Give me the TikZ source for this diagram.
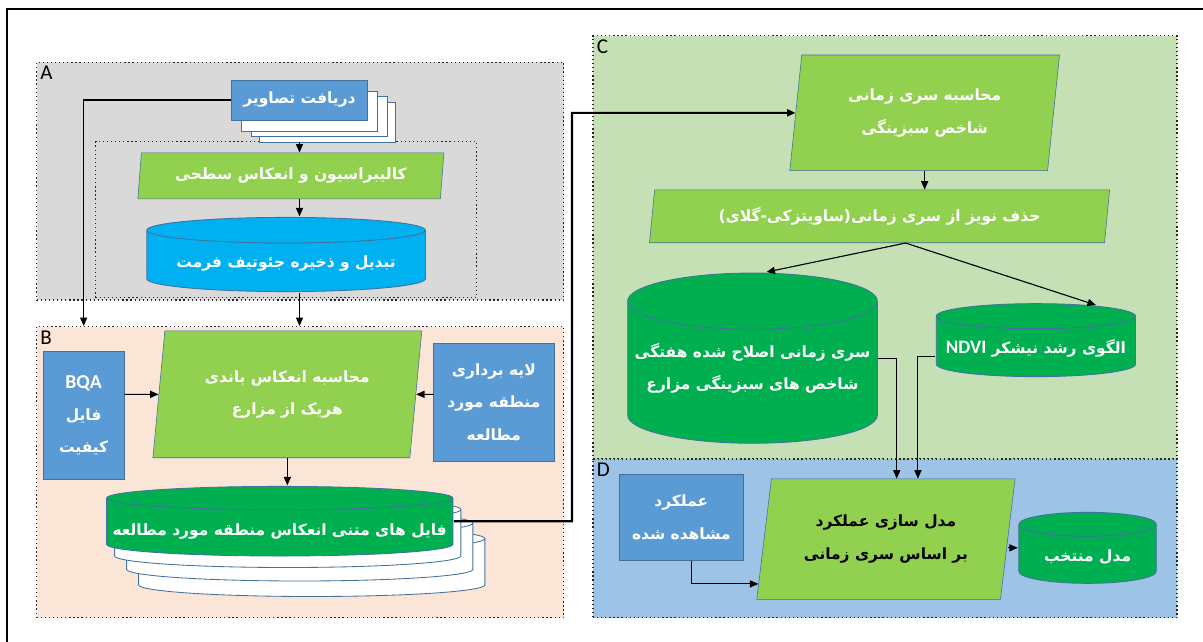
\documentclass[tikz,border=0pt]{standalone}
\usepackage{fontspec}
\setmainfont{Carlito}
\newfontfamily\fafont[Script=Arabic]{DejaVu Sans}
\TeXXeTstate=1
\usetikzlibrary{arrows.meta,shapes.geometric,positioning,calc}

\definecolor{boxblue}{HTML}{5B9BD5}
\definecolor{bordblue}{HTML}{41719C}
\definecolor{paragreen}{HTML}{92D050}
\definecolor{cylblue}{HTML}{00B0F0}
\definecolor{cylgreen}{HTML}{00B050}
\definecolor{fillA}{HTML}{D9D9D9}
\definecolor{fillB}{HTML}{FBE5D6}
\definecolor{fillC}{HTML}{C5E0B4}
\definecolor{fillD}{HTML}{9DC3E6}

\tikzset{
  region/.style={draw=black!85, dotted, line width=0.9pt, inner sep=0pt},
  regionlab/.style={anchor=north west, inner sep=3pt, font=\fontsize{15}{15}\selectfont},
  fatext/.style={text=white, align=center, font=\fafont\bfseries\fontsize{11}{23}\selectfont},
  bluebox/.style={rectangle, draw=bordblue, fill=boxblue, fatext, inner sep=0pt},
  sheet/.style={rectangle, draw=bordblue, fill=white, inner sep=0pt},
  parabox/.style={trapezium, trapezium stretches body, draw=bordblue, fill=paragreen, fatext, inner sep=0pt},
  cyldepth/.store in=\cyldepth, cyldepth=9pt,
  cylcolor/.store in=\cylcolor, cylcolor=cylgreen,
  dbase/.style={rectangle, inner sep=0pt, path picture={
    \draw[draw=bordblue, fill=\cylcolor, line width=0.6pt]
      let \p1=(path picture bounding box.north west), \p2=(path picture bounding box.south east),
          \n1={(\x2-\x1)/2-0.5pt} in
      (\x1+0.5pt,\y1-0.5pt-\cyldepth) -- (\x1+0.5pt,\y2+0.5pt+\cyldepth)
      arc[start angle=180, end angle=360, x radius=\n1, y radius=\cyldepth]
      -- (\x2-0.5pt,\y1-0.5pt-\cyldepth)
      arc[start angle=0, end angle=180, x radius=\n1, y radius=\cyldepth]
      arc[start angle=180, end angle=360, x radius=\n1, y radius=\cyldepth];
  }},
  arr/.style={-{Triangle[length=6pt,width=5pt]}, line width=0.8pt},
}

\begin{document}
\begin{tikzpicture}[x=0.025cm,y=-0.025cm]
\useasboundingbox (0,0) rectangle (1203,642);
\draw[line width=1.8pt] (7,9) rectangle (1215,660);

\node[region, fill=fillA, minimum width=13.175cm, minimum height=5.94cm, label={[regionlab]north west:A}] (partA) at (300.2,181.15) {};
\node[region, minimum width=9.52cm, minimum height=3.9cm] (calibzone) at (286.1,219.7) {};
\node[region, fill=fillB, minimum width=13.175cm, minimum height=7.275cm, label={[regionlab]north west:B}] (partB) at (300.2,472.2) {};
\node[region, fill=fillC, minimum width=14.6cm, minimum height=10.58cm, label={[regionlab]north west:C}] (partC) at (885,247.35) {};
\node[region, fill=fillD, minimum width=14.6cm, minimum height=3.97cm, label={[regionlab]north west:D}] (partD) at (885,538.35) {};

\node[sheet, minimum width=3.4cm, minimum height=1cm] (img3) at (327,122) {};
\node[sheet, minimum width=3.4cm, minimum height=1cm] (img2) at (319,116) {};
\node[sheet, minimum width=3.4cm, minimum height=1cm] (img1) at (309.5,111) {};
\node[bluebox, minimum width=3.4cm, minimum height=1cm] (recv) at (299.5,100) {\beginR دریافت تصاویر\endR};
\node[parabox, trapezium left angle=77, trapezium right angle=103, minimum width=7.65cm, minimum height=1.15cm] (calib) at (290.9,175.85)
  {\beginR کالیبراسیون  و انعکاس سطحی\endR};
\node[dbase, cylcolor=cylblue, cyldepth=9.1pt, minimum width=7cm, minimum height=1.89cm,
  label={[fatext, yshift=-0.22cm]center:\beginR تبدیل و ذخیره جئوتیف فرمت\endR}] (geo) at (286.1,254.5) {};

\node[bluebox, minimum width=2.04cm, minimum height=3.18cm] (bqa) at (83.65,415.35)
  {{\normalfont\bfseries\fontsize{14}{23}\selectfont BQA}\\\beginR فایل\endR\\\beginR کیفیت\endR};
\node[parabox, trapezium left angle=76, trapezium right angle=104, minimum width=6.72cm, minimum height=3.17cm] (band) at (287.35,394.35)
  {\beginR محاسبه انعکاس باندی\endR\\\beginR هریک از مزارع\endR};
\node[bluebox, minimum width=3.015cm, minimum height=2.94cm] (study) at (493.9,402.15)
  {\beginR لایه برداری\endR\\\beginR منطقه مورد\endR\\\beginR مطالعه\endR};
\node[dbase, cylcolor=white, cyldepth=8.3pt, minimum width=8.69cm, minimum height=1.775cm] (files3) at (311.75,561.7) {};
\node[dbase, cylcolor=white, cyldepth=8.3pt, minimum width=8.69cm, minimum height=1.775cm] (files2) at (299.75,546.2) {};
\node[dbase, cylcolor=white, cyldepth=8.3pt, minimum width=8.69cm, minimum height=1.775cm] (files1) at (287.75,532.7) {};
\node[dbase, cyldepth=8.3pt, minimum width=8.69cm, minimum height=1.775cm,
  label={[fatext, yshift=-0.26cm]center:\beginR فایل های متنی انعکاس منطقه مورد مطالعه\endR}] (files) at (279.75,521.2) {};

\node[parabox, trapezium left angle=76, trapezium right angle=104, minimum width=6.74cm, minimum height=2.89cm] (tsindex) at (924.65,112.85)
  {\beginR محاسبه سری زمانی\endR\\\beginR شاخص سبزینگی\endR};
\node[parabox, trapezium left angle=74, trapezium right angle=106, minimum width=11.5cm, minimum height=1.32cm] (denoise) at (879.55,216.35)
  {\beginR حذف نویز  از سری زمانی(ساویتزکی-گلای)\endR};
\node[dbase, cyldepth=20pt, minimum width=6.275cm, minimum height=4.29cm,
  label={[fatext, yshift=-0.25cm]center:\beginR سری زمانی اصلاح شده هفتگی\endR\\\beginR شاخص  های سبزینگی مزارع\endR}] (weekly) at (752.5,358.15) {};
\node[dbase, cyldepth=8.9pt, minimum width=5.015cm, minimum height=1.86cm,
  label={[fatext, yshift=-0.2cm]center:\beginR الگوی رشد نیشکر \beginL{\normalfont\bfseries\fontsize{13.5}{23}\selectfont NDVI}\endL\endR}] (ndvi) at (1035.9,340.15) {};

\node[bluebox, minimum width=3.08cm, minimum height=2.17cm] (obs) at (681.3,517.35)
  {\beginR عملکرد\endR\\\beginR مشاهده شده\endR};
\node[parabox, trapezium left angle=73, trapezium right angle=107, minimum width=6.455cm, minimum height=3.01cm, text=black] (model) at (885.9,539.15)
  {\beginR مدل سازی عملکرد\endR\\\beginR بر اساس سری زمانی\endR};
\node[dbase, cyldepth=8.5pt, minimum width=3.47cm, minimum height=1.81cm,
  label={[fatext, yshift=-0.22cm]center:\beginR مدل منتخب\endR}] (chosen) at (1087.55,547.85) {};

\coordinate (turn) at (572,112.85);

\draw[arr] (img3.south -| recv) -- (calib.north -| recv);
\draw[arr] (calib.south -| recv) -- (geo.north -| recv);
\draw[arr] (geo.south -| recv) -- (partB.north -| recv);
\draw[arr] (recv.west) -| (bqa |- partB.north);
\draw[arr] (bqa.east |- band) -- (band);
\draw[arr] (study.west |- band) -- (band);
\draw[arr] (band.south) -- (band.south |- files.north);
\draw[arr, line width=1.5pt] (files.east) -| (turn) -- (tsindex.west);
\draw[arr] (tsindex.south) -- (tsindex.south |- denoise.north);
\draw[arr] ([xshift=0.65cm]denoise.south) -- ([xshift=0.35cm]weekly.north);
\draw[arr] ([xshift=0.65cm]denoise.south) -- ([xshift=1.5cm,yshift=-0.06cm]ndvi.north);
\draw[arr] (weekly.east) -| ([xshift=0.27cm]model.north);
\draw[arr] ([yshift=-0.4cm]ndvi.west) -| ([xshift=0.8cm]model.north);
\draw[arr] ([xshift=0.25cm]obs.south) |- ($(model.bottom left corner)!0.13!(model.top left corner)$);
\draw[arr] (model.east |- chosen) -- (chosen);
\end{tikzpicture}
\end{document}
